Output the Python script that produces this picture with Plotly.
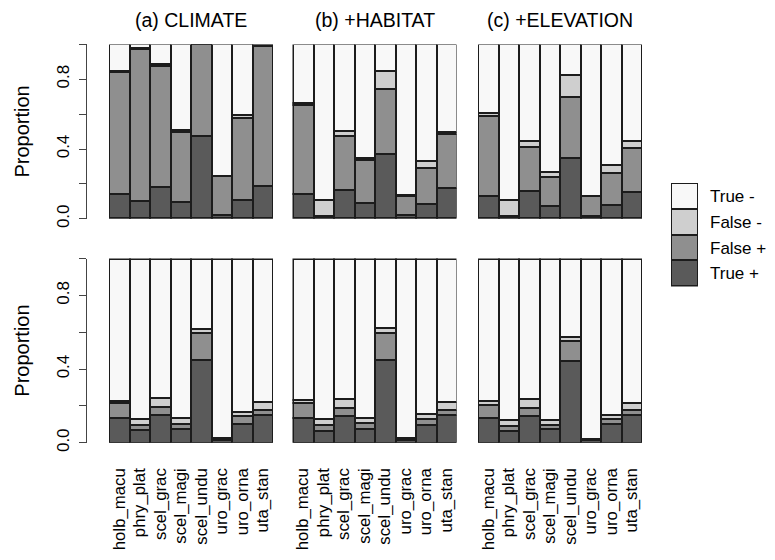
import plotly.graph_objects as go

# page body has an 8px default margin; figure is sized to fit the window
OFF = 8
W, H = 775 - OFF, 560 - OFF

species = ["holb_macu", "phry_plat", "scel_grac", "scel_magi",
           "scel_undu", "uro_grac", "uro_orna", "uta_stan"]
panel_titles = ["(a) CLIMATE", "(b) +HABITAT", "(c) +ELEVATION"]
outcomes = ["True +", "False +", "False -", "True -"]
outcome_colors = ["#5a5a5a", "#8f8f8f", "#cfcfcf", "#f8f8f8"]
tick_vals = [0.0, 0.2, 0.4, 0.6, 0.8, 1.0]
tick_text = ["0.0", "", "0.4", "", "0.8", ""]

# ---- top row: proportions per species (True +, False +, False -, True -)
top_climate_tp = [0.140, 0.100, 0.180, 0.094, 0.472, 0.019, 0.107, 0.188]
top_climate_fp = [0.700, 0.872, 0.695, 0.400, 0.528, 0.223, 0.470, 0.799]
top_climate_fn = [0.005, 0.004, 0.010, 0.011, 0.000, 0.000, 0.015, 0.008]
top_climate_tn = [0.155, 0.024, 0.115, 0.495, 0.000, 0.758, 0.408, 0.005]

top_habitat_tp = [0.139, 0.010, 0.164, 0.088, 0.370, 0.017, 0.085, 0.173]
top_habitat_fp = [0.513, 0.003, 0.308, 0.248, 0.372, 0.113, 0.206, 0.310]
top_habitat_fn = [0.008, 0.090, 0.030, 0.010, 0.102, 0.003, 0.038, 0.015]
top_habitat_tn = [0.340, 0.897, 0.498, 0.654, 0.156, 0.867, 0.671, 0.502]

top_elev_tp = [0.130, 0.010, 0.160, 0.073, 0.346, 0.013, 0.079, 0.154]
top_elev_fp = [0.460, 0.003, 0.248, 0.166, 0.348, 0.113, 0.184, 0.248]
top_elev_fn = [0.017, 0.090, 0.034, 0.028, 0.126, 0.000, 0.045, 0.040]
top_elev_tn = [0.393, 0.897, 0.558, 0.733, 0.180, 0.874, 0.692, 0.558]

# ---- bottom row
bot_climate_tp = [0.137, 0.071, 0.151, 0.075, 0.452, 0.018, 0.107, 0.151]
bot_climate_fp = [0.080, 0.030, 0.045, 0.032, 0.144, 0.009, 0.039, 0.030]
bot_climate_fn = [0.014, 0.029, 0.050, 0.032, 0.023, 0.000, 0.023, 0.043]
bot_climate_tn = [0.769, 0.870, 0.754, 0.861, 0.381, 0.973, 0.831, 0.776]

bot_habitat_tp = [0.137, 0.068, 0.146, 0.075, 0.454, 0.018, 0.098, 0.151]
bot_habitat_fp = [0.080, 0.030, 0.046, 0.035, 0.147, 0.009, 0.035, 0.032]
bot_habitat_fn = [0.018, 0.032, 0.050, 0.029, 0.025, 0.000, 0.027, 0.039]
bot_habitat_tn = [0.765, 0.870, 0.758, 0.861, 0.374, 0.973, 0.840, 0.778]

bot_elev_tp = [0.137, 0.068, 0.146, 0.075, 0.448, 0.018, 0.103, 0.151]
bot_elev_fp = [0.073, 0.026, 0.046, 0.023, 0.109, 0.006, 0.027, 0.027]
bot_elev_fn = [0.021, 0.031, 0.050, 0.027, 0.020, 0.000, 0.025, 0.041]
bot_elev_tn = [0.769, 0.875, 0.758, 0.875, 0.423, 0.976, 0.845, 0.781]

legend_units = [1, 1, 1, 1]

panels = [
    [(top_climate_tp, top_climate_fp, top_climate_fn, top_climate_tn),
     (top_habitat_tp, top_habitat_fp, top_habitat_fn, top_habitat_tn),
     (top_elev_tp, top_elev_fp, top_elev_fn, top_elev_tn)],
    [(bot_climate_tp, bot_climate_fp, bot_climate_fn, bot_climate_tn),
     (bot_habitat_tp, bot_habitat_fp, bot_habitat_fn, bot_habitat_tn),
     (bot_elev_tp, bot_elev_fp, bot_elev_fn, bot_elev_tn)],
]

FONT = "Liberation Sans, Arial, Helvetica, sans-serif"
EDGE = "#1c1c1c"
AXC = "#444444"
LW = 2.0

def fx(x):
    return (x - OFF) / W

def fy(y):
    return 1 - (y - OFF) / H

def px_x(a, b):
    return [fx(a), fx(b)]

def px_y(top, bottom):
    return [fy(bottom), fy(top)]

col_px = [(109, 273), (292.5, 456.5), (478, 642)]
row_px = [(45, 222.3), (262.7, 450)]

fig = go.Figure()
layout = {}
idx = 0
for r in range(2):
    for c in range(3):
        idx += 1
        xa = "x" if idx == 1 else f"x{idx}"
        ya = "y" if idx == 1 else f"y{idx}"
        for vals, name, col in zip(panels[r][c], outcomes, outcome_colors):
            fig.add_trace(go.Bar(
                x=species, y=vals, name=name, xaxis=xa, yaxis=ya,
                marker=dict(color=col, line=dict(color=EDGE, width=LW)),
                showlegend=False, hoverinfo="x+y+name"))
        xk = "xaxis" if idx == 1 else f"xaxis{idx}"
        yk = "yaxis" if idx == 1 else f"yaxis{idx}"
        xd = dict(domain=px_x(*col_px[c]), anchor=ya, range=[-0.5, 7.5],
                  showgrid=False, zeroline=False, showline=False,
                  fixedrange=True, tickmode="array", tickvals=species,
                  ticktext=species)
        if r == 1:
            xd.update(showticklabels=True, tickangle=-90, ticks="",
                      ticklabelstandoff=21,
                      tickfont=dict(family=FONT, size=16.8, color="#000"))
        else:
            xd.update(showticklabels=False, ticks="")
        yd = dict(domain=px_y(*row_px[r]), range=[0, 1], showgrid=False,
                  zeroline=False, fixedrange=True)
        if c == 0:
            yd.update(anchor="free", position=fx(86),
                      showline=True, linecolor=AXC, linewidth=1,
                      ticks="outside", ticklen=7, tickcolor=AXC, tickwidth=1,
                      tickvals=tick_vals, ticktext=tick_text, tickangle=-90,
                      ticklabelstandoff=3,
                      tickfont=dict(family=FONT, size=17, color="#000"))
        else:
            yd.update(anchor=xa, visible=False)
        layout[xk] = xd
        layout[yk] = yd

# legend drawn as a small stacked bar on its own axes
for v, name, col in zip(legend_units, outcomes, outcome_colors):
    fig.add_trace(go.Bar(
        x=["legend"], y=[v], name=name, xaxis="x7", yaxis="y7",
        marker=dict(color=col, line=dict(color=EDGE, width=LW)),
        showlegend=False, hoverinfo="name"))
layout["xaxis7"] = dict(domain=px_x(671, 698), anchor="y7", range=[-0.5, 0.5],
                        visible=False, fixedrange=True)
layout["yaxis7"] = dict(domain=px_y(186, 291), anchor="x7", range=[0, 4],
                        side="right", showgrid=False, zeroline=False,
                        showline=False, ticks="", fixedrange=True,
                        tickvals=[0.5, 1.5, 2.5, 3.5], ticktext=outcomes,
                        ticklabelstandoff=11,
                        tickfont=dict(family=FONT, size=17, color="#000"))

annotations = []
for c, t in enumerate(panel_titles):
    a, b = col_px[c]
    annotations.append(dict(text=t, x=fx((a + b) / 2), y=fy(20),
                            xref="paper", yref="paper", showarrow=False,
                            xanchor="center", yanchor="middle",
                            font=dict(family=FONT, size=19.5, color="#000")))
for r in range(2):
    t, b = row_px[r]
    annotations.append(dict(text="Proportion", x=fx(22), y=fy((t + b) / 2),
                            xref="paper", yref="paper", showarrow=False,
                            textangle=-90, xanchor="center", yanchor="middle",
                            font=dict(family=FONT, size=20, color="#000")))

fig.update_layout(
    width=W, height=H, margin=dict(l=0, r=0, t=0, b=0),
    paper_bgcolor="white", plot_bgcolor="white",
    barmode="stack", bargap=0, showlegend=False,
    annotations=annotations, **layout)

fig.write_html("out.html")
